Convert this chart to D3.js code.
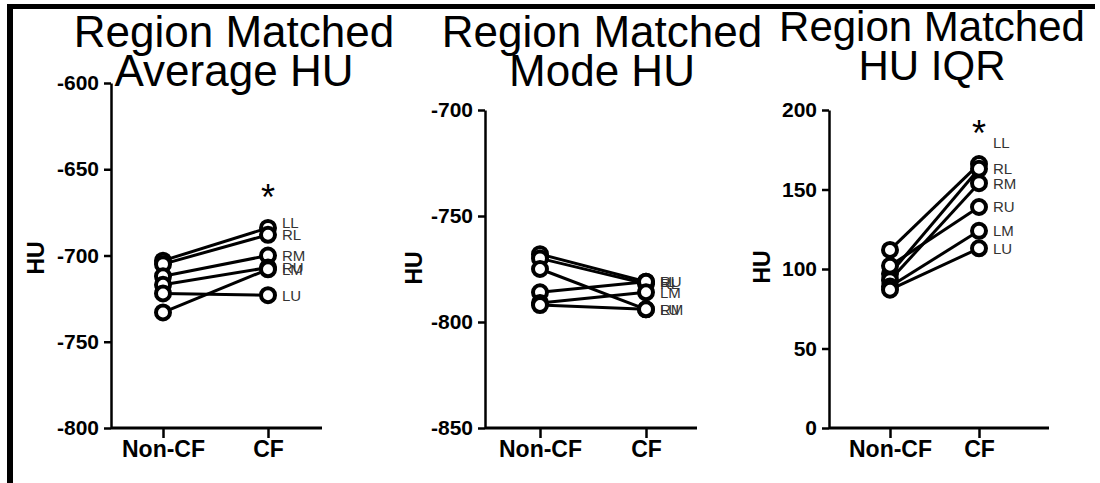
<!DOCTYPE html>
<html>
<head>
<meta charset="utf-8">
<script src="https://cdn.jsdelivr.net/npm/d3@7"></script>
<style>
  body { margin: 0; background: #fff; }
  svg { display: block; }
</style>
</head>
<body>
<div id="chart"></div>
<script>
// groups on the x axis
var groups = ["Non-CF", "CF"];
// lung regions (one line per region)
var regions = ["LL", "RL", "RM", "RU", "LM", "LU"];

// panel 1: region matched average HU
var avgNonCF = [-703, -705, -712, -717, -733, -722];
var avgCF    = [-684, -688, -700, -707, -708, -723];
var avgTicks = [-600, -650, -700, -750, -800];

// panel 2: region matched mode HU
var modeNonCF = [-768, -770, -775, -786, -791, -792];
var modeCF    = [-781, -782, -794, -781, -786, -794];
var modeTicks = [-700, -750, -800, -850];

// panel 3: region matched HU IQR
var iqrNonCF = [112, 97, 93, 102, 89, 87];
var iqrCF    = [166, 163, 154, 139, 124, 113];
var iqrTicks = [0, 50, 100, 150, 200];

const W = 1100, H = 483;
const axisY = 428;

const panels = [
  { title: ["Region Matched", "Average HU"], nonCF: avgNonCF, cf: avgCF, ticks: avgTicks,
    domain: [-800, -600], top: 83, left: 111, right: 322, pts: [163, 268],
    titleX: 234, titleY: 47, titleSize: 44, labelX: 44, labelY: 258, star: true, nudge: { LL: -5 } },
  { title: ["Region Matched", "Mode HU"], nonCF: modeNonCF, cf: modeCF, ticks: modeTicks,
    domain: [-850, -700], top: 110, left: 485, right: 697, pts: [540, 646],
    titleX: 602, titleY: 47, titleSize: 44, labelX: 422, labelY: 268, star: false, nudge: {} },
  { title: ["Region Matched", "HU IQR"], nonCF: iqrNonCF, cf: iqrCF, ticks: iqrTicks,
    domain: [0, 200], top: 110, left: 829, right: 1049, pts: [890, 979],
    titleX: 932, titleY: 41, titleSize: 42, labelX: 770, labelY: 267, star: true, nudge: { LL: -21 } }
];

const svg = d3.select("#chart").append("svg")
  .attr("width", W)
  .attr("height", H);

// frame (left and top black bars)
svg.append("rect").attr("x", 7).attr("y", 4).attr("width", 6).attr("height", H - 4).attr("fill", "#000");
svg.append("rect").attr("x", 7).attr("y", 4).attr("width", 1088).attr("height", 5).attr("fill", "#000");

panels.forEach(function (p) {
  const g = svg.append("g");

  const y = d3.scaleLinear().domain(p.domain).range([axisY, p.top]);
  const x = d3.scalePoint().domain(groups).range(p.pts);

  // title
  const t = g.append("text")
    .attr("x", p.titleX)
    .attr("y", p.titleY)
    .attr("text-anchor", "middle")
    .attr("font-family", "'Liberation Sans', Arial, sans-serif")
    .attr("font-size", p.titleSize)
    .attr("fill", "#000");
  p.title.forEach(function (line, i) {
    t.append("tspan").attr("x", p.titleX).attr("dy", i === 0 ? 0 : 39).text(line);
  });

  // y axis
  const yAxis = d3.axisLeft(y).tickValues(p.ticks).tickSize(7).tickPadding(5)
    .tickSizeOuter(0).tickFormat(d => String(d));
  const ya = g.append("g")
    .attr("transform", `translate(${p.left},0)`)
    .call(yAxis);
  ya.select(".domain").attr("stroke-width", 2.5);
  ya.selectAll(".tick line").attr("stroke-width", 2.5);
  ya.selectAll(".tick text")
    .attr("font-family", "'Liberation Sans', Arial, sans-serif")
    .attr("font-weight", "bold")
    .attr("font-size", 21);

  // x axis
  g.append("line")
    .attr("x1", p.left).attr("x2", p.right)
    .attr("y1", axisY).attr("y2", axisY)
    .attr("stroke", "#000").attr("stroke-width", 3);
  const xAxis = d3.axisBottom(x).tickSize(10).tickSizeOuter(0);
  const xa = g.append("g")
    .attr("transform", `translate(0,${axisY})`)
    .call(xAxis);
  xa.select(".domain").remove();
  xa.selectAll(".tick line").attr("stroke-width", 2.5);
  xa.selectAll(".tick text")
    .attr("font-family", "'Liberation Sans', Arial, sans-serif")
    .attr("font-weight", "bold")
    .attr("font-size", 23)
    .attr("dy", "0.71em");

  // y label
  g.append("text")
    .attr("transform", `translate(${p.labelX},${p.labelY}) rotate(-90)`)
    .attr("text-anchor", "middle")
    .attr("font-family", "'Liberation Sans', Arial, sans-serif")
    .attr("font-weight", "bold")
    .attr("font-size", 23)
    .text("HU");

  const rows = regions.map(function (r, i) {
    return { region: r, a: p.nonCF[i], b: p.cf[i] };
  });

  // connecting lines
  g.selectAll(".pair")
    .data(rows)
    .enter()
    .append("line")
    .attr("x1", x("Non-CF")).attr("y1", d => y(d.a))
    .attr("x2", x("CF")).attr("y2", d => y(d.b))
    .attr("stroke", "#000")
    .attr("stroke-width", 3);

  // points
  rows.forEach(function (d) {
    [["Non-CF", d.a], ["CF", d.b]].forEach(function (pt) {
      g.append("circle")
        .attr("cx", x(pt[0]))
        .attr("cy", y(pt[1]))
        .attr("r", 7)
        .attr("fill", "#fff")
        .attr("stroke", "#000")
        .attr("stroke-width", 4);
    });
  });

  // region labels
  g.selectAll(".lab")
    .data(rows)
    .enter()
    .append("text")
    .attr("x", x("CF") + 14)
    .attr("y", d => y(d.b) + (p.nudge[d.region] || 0))
    .attr("dy", "0.36em")
    .attr("font-family", "'Liberation Sans', Arial, sans-serif")
    .attr("font-size", 15)
    .attr("fill", "#333")
    .text(d => d.region);

  // significance mark
  if (p.star) {
    const top = d3.max(p.cf);
    g.append("text")
      .attr("x", x("CF"))
      .attr("y", y(top) - 18)
      .attr("text-anchor", "middle")
      .attr("font-family", "'Liberation Sans', Arial, sans-serif")
      .attr("font-size", 36)
      .attr("fill", "#000")
      .text("*");
  }
});
</script>
</body>
</html>
